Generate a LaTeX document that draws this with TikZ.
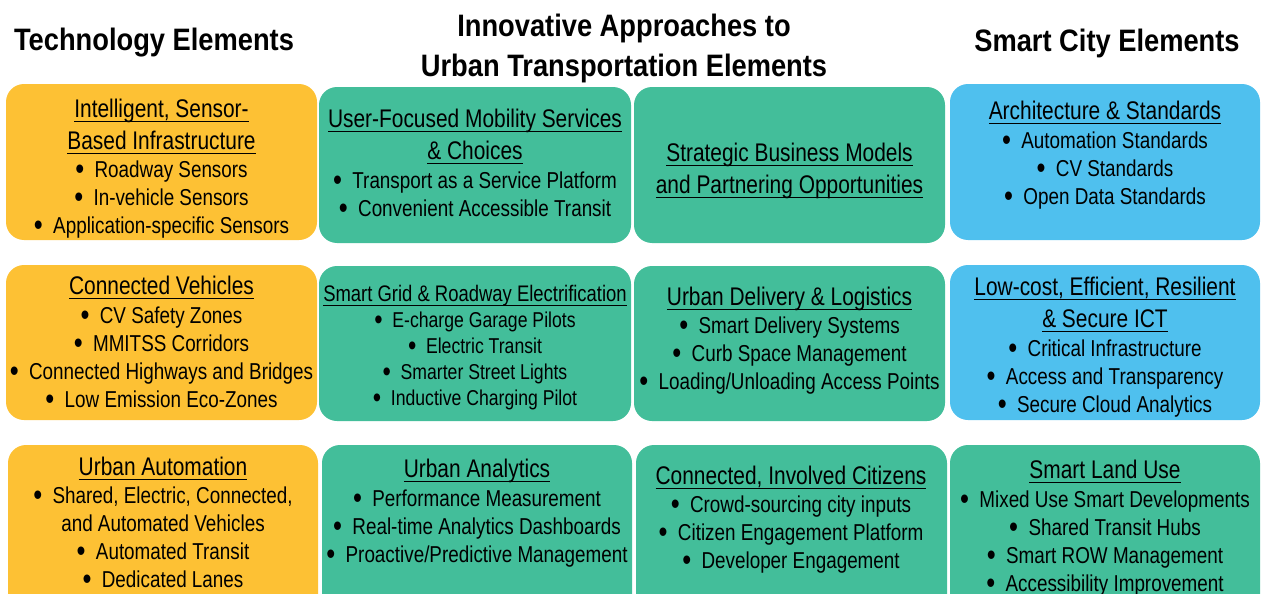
\documentclass[tikz,border=0pt]{standalone}
\usepackage{fontspec}
\usepackage{graphicx}
\setmainfont{Liberation Sans}[FakeStretch=0.82]
\newfontfamily\headfont{Liberation Sans}[FakeStretch=0.88]
\usetikzlibrary{fit}
\definecolor{yel}{RGB}{253,193,52}
\definecolor{grn}{RGB}{67,190,154}
\definecolor{blu}{RGB}{79,192,238}
\newcommand\ulin[1]{\setbox0=\hbox{#1}\rlap{\rule[-4.5pt]{\wd0}{1.2pt}}\box0}
\newcommand\tst{\rule{0pt}{22pt}}
\newcommand\ttl[1]{{\fontsize{25.5}{28}\selectfont\ulin{#1}}}
\newcommand\ttlsm[1]{{\fontsize{22.5}{26}\selectfont\ulin{#1}}}
\newcommand\bl{\raisebox{-2pt}{\scalebox{1.35}{•}}\hspace{0.45em}}
\begin{document}
\begin{tikzpicture}[x=1pt,y=-1pt,
  cellbox/.style={rounded corners=18pt, inner sep=0pt, outer sep=0pt, draw=none},
  txt/.style={anchor=north, align=center, inner sep=0pt, font=\fontsize{23}{28}\selectfont},
  txtsm/.style={anchor=north, align=center, inner sep=0pt, font=\fontsize{21.5}{26}\selectfont},
  head/.style={inner sep=0pt, align=center, font=\headfont\bfseries\fontsize{31}{40}\selectfont}]
\useasboundingbox (0,0) rectangle (1261,594);
\clip (0,0) rectangle (1261,594);
% headers
\node[head] (h1) at (154,43) {Technology Elements};
\node[head] (h2a) at (624,28) {Innovative Approaches to};
\node[head] (h2b) at (624,68) {Urban Transportation Elements};
\node[head] (h3) at (1107,43) {Smart City Elements};
% boxes
\node[cellbox, fill=yel, fit={(6,84) (317,240)}] (b11) {};
\node[cellbox, fill=grn, fit={(319,87) (631,243)}] (b12) {};
\node[cellbox, fill=grn, fit={(634,87) (945,243)}] (b13) {};
\node[cellbox, fill=blu, fit={(950,84) (1260,240)}] (b14) {};
\node[cellbox, fill=yel, fit={(6,265) (317,420)}] (b21) {};
\node[cellbox, fill=grn, fit={(319,266) (631,421)}] (b22) {};
\node[cellbox, fill=grn, fit={(634,266) (945,421)}] (b23) {};
\node[cellbox, fill=blu, fit={(950,265) (1260,420)}] (b24) {};
\node[cellbox, fill=yel, fit={(8,445) (318,612)}] (b31) {};
\node[cellbox, fill=grn, fit={(322,445) (632,612)}] (b32) {};
\node[cellbox, fill=grn, fit={(636,445) (947,612)}] (b33) {};
\node[cellbox, fill=grn, fit={(950,445) (1260,612)}] (b34) {};
% texts
\node[txt] (t11) at (161.5,95) {\tst\ttl{Intelligent, Sensor-}\\[4pt]\ttl{Based Infrastructure}\\
  \bl Roadway Sensors\\ \bl In-vehicle Sensors\\ \bl Application-specific Sensors};
\node[txt] (t12) at (475,105) {\tst\ttl{User-Focused Mobility Services}\\[4pt]\ttl{\& Choices}\\[1pt]
  \bl Transport as a Service Platform\\ \bl Convenient Accessible Transit};
\node[txt] (t13) at (789.5,139) {\tst\ttl{Strategic Business Models}\\[4pt]\ttl{and Partnering Opportunities}};
\node[txt] (t14) at (1105,97) {\tst\ttl{Architecture \& Standards}\\[1pt]
  \bl Automation Standards\\ \bl CV Standards\\ \bl Open Data Standards};
\node[txt] (t21) at (161.5,272) {\tst\ttl{Connected Vehicles}\\[1pt]
  \bl CV Safety Zones\\ \bl MMITSS Corridors\\ \bl Connected Highways and Bridges\\ \bl Low Emission Eco-Zones};
\node[txtsm] (t22) at (475,281) {\rule{0pt}{20pt}\ttlsm{Smart Grid \& Roadway Electrification}\\
  \bl E-charge Garage Pilots\\ \bl Electric Transit\\ \bl Smarter Street Lights\\ \bl Inductive Charging Pilot};
\node[txt] (t23) at (789.5,283) {\tst\ttl{Urban Delivery \& Logistics}\\
  \bl Smart Delivery Systems\\ \bl Curb Space Management\\ \bl Loading/Unloading Access Points};
\node[txt] (t24) at (1105,273) {\tst\ttl{Low-cost, Efficient, Resilient}\\[4pt]\ttl{\& Secure ICT}\\[1pt]
  \bl Critical Infrastructure\\ \bl Access and Transparency\\ \bl Secure Cloud Analytics};
\node[txt] (t31) at (163,453) {\tst\ttl{Urban Automation}\\
  \bl Shared, Electric, Connected,\\ and Automated Vehicles\\ \bl Automated Transit\\ \bl Dedicated Lanes};
\node[txt] (t32) at (477,455) {\tst\ttl{Urban Analytics}\\[1pt]
  \bl Performance Measurement\\ \bl Real-time Analytics Dashboards\\ \bl Proactive/Predictive Management};
\node[txt] (t33) at (791,462) {\tst\ttl{Connected, Involved Citizens}\\
  \bl Crowd-sourcing city inputs\\ \bl Citizen Engagement Platform\\ \bl Developer Engagement};
\node[txt] (t34) at (1105,456) {\tst\ttl{Smart Land Use}\\[1pt]
  \bl Mixed Use Smart Developments\\ \bl Shared Transit Hubs\\ \bl Smart ROW Management\\ \bl Accessibility Improvement};
\end{tikzpicture}
\end{document}
